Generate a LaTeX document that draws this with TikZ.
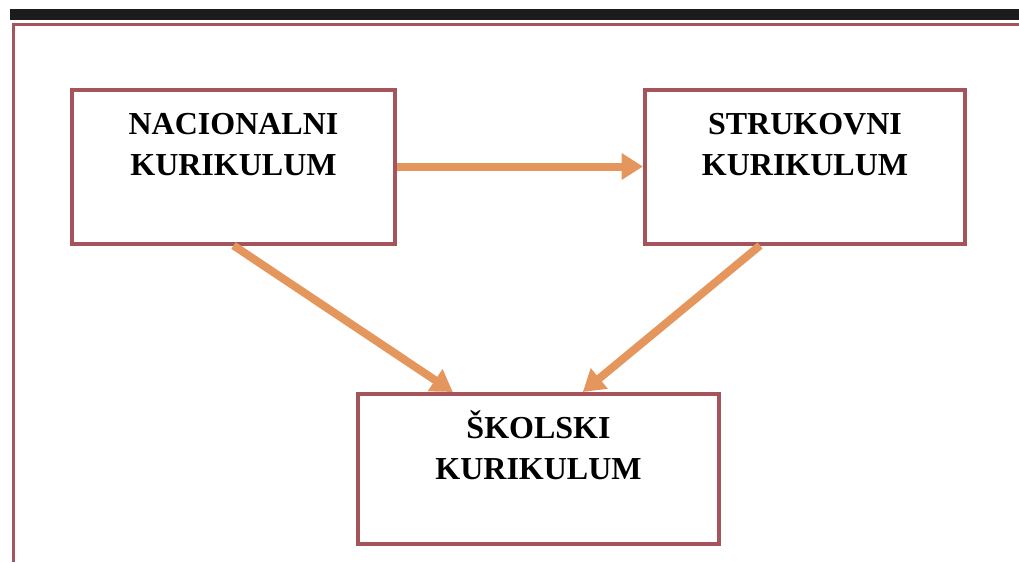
\documentclass[tikz,border=0pt]{standalone}
\usepackage{fontspec}
\setmainfont{Liberation Serif}
\usepackage{tikz}
\usetikzlibrary{calc,positioning,arrows.meta}

\definecolor{okvir}{RGB}{166,84,92}
\definecolor{strelica}{RGB}{228,150,92}
\definecolor{traka}{RGB}{28,28,28}

\tikzset{
  kutija/.style={draw=okvir,line width=3pt,minimum width=#1,minimum height=115.5pt,inner sep=0pt},
  natpis/.style={align=center,inner sep=0pt,font=\fontsize{24}{30.75}\selectfont\bfseries},
  veza/.style={draw=strelica,line width=6pt,-{Triangle[length=16pt,width=19pt]}}
}

\begin{document}
\begin{tikzpicture}[x=0.75pt,y=-0.75pt]
      \useasboundingbox (0,0) rectangle (1019,562);
      \fill[traka] (10,9) rectangle (1019,20);
      \draw[okvir,line width=2.25pt] (13,562) -- (13,24) -- (1019,24);
      \node[kutija=242pt] (nac) at (233.5,166.5) {};
      \node[kutija=240pt] (struk) at (805,166.5) {};
      \node[kutija=271pt,minimum height=112.5pt] (skol) at (538.5,469) {};
      \node[natpis,below=19pt of nac.north] (nactxt) {NACIONALNI\\KURIKULUM};
      \node[natpis,below=19pt of struk.north] (struktxt) {STRUKOVNI\\KURIKULUM};
      \node[natpis,below=13.5pt of skol.north] (skoltxt) {ŠKOLSKI\\KURIKULUM};
      % veze prema skolskom kurikulumu
      \draw[veza] (nac.east) -- (struk.west);
      \draw[veza] (nac.south) -- ($(skol.north west)+(97,0)$);
      \draw[veza] ($(struk.south)+(-45,0)$) -- ($(skol.north west)+(227,0)$);
\end{tikzpicture}
\end{document}
